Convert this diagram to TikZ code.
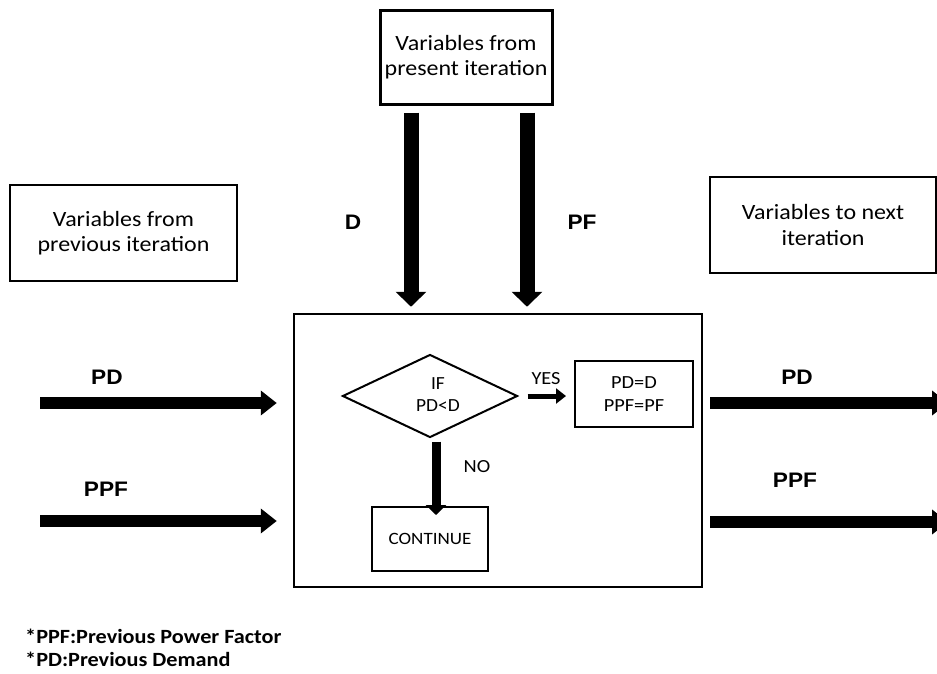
\documentclass[tikz,border=0pt]{standalone}
\usepackage{fontspec}
\setmainfont{Carlito}[FakeStretch=1.1]
\newfontfamily\plainfont{Carlito}[FakeStretch=1.05]
\newfontfamily\labfont{Liberation Sans}[FakeStretch=1.08]
\usetikzlibrary{arrows.meta,shapes.geometric}
\begin{document}
\begin{tikzpicture}[x=1pt,y=-1pt,
  box/.style={draw, line width=2.5pt, align=center, inner sep=0pt},
  boxtext/.style={font=\fontsize{21.8}{25.5}\selectfont},
  smalltext/.style={font=\fontsize{18.5}{23}\selectfont},
  conttext/.style={font=\fontsize{17.3}{22}\selectfont},
  lab/.style={font=\labfont\bfseries\fontsize{21}{25}\selectfont},
  bigarrow/.style={line width=15pt, -{Triangle[width=30pt,length=15pt]}},
  sidearrow/.style={line width=12pt, -{Triangle[width=24pt,length=16pt]}},
  yesarrow/.style={line width=5pt, -{Triangle[width=15pt,length=10pt]}},
  noarrow/.style={line width=9pt, -{Triangle[width=20pt,length=10pt]}},
  note/.style={anchor=west, inner sep=0pt, font=\bfseries\fontsize{20.2}{23}\selectfont}
]
\fill[white] (0,0) rectangle (937,673);
\useasboundingbox (0,0) rectangle (937,673);

% boxes
\node[box, boxtext, line width=3pt, minimum width=172pt, minimum height=94pt] (top) at (466,57) {Variables from\\present iteration};
\node[box, boxtext, minimum width=227pt, minimum height=96pt] (prev) at (123.5,233) {Variables from\\previous iteration};
\node[box, boxtext, minimum width=226pt, minimum height=96pt] (next) at (823,225) {Variables to next\\iteration};
\node[box, minimum width=408pt, minimum height=273pt] (big) at (498,450.5) {};

% inner flowchart
\node[diamond, draw, line width=2pt, inner sep=0pt, minimum width=175pt, minimum height=83pt] (cond) at (430,396) {};
\node[align=center, font=\plainfont\fontsize{18.5}{22}\selectfont] (condtext) at (438,395) {IF\\PD<D};
\node[box, smalltext, line width=2pt, minimum width=118pt, minimum height=66pt] (upd) at (634,394) {PD=D\\PPF=PF};
\node[box, conttext, line width=2pt, minimum width=116pt, minimum height=64pt] (cont) at (430,539) {CONTINUE};

\draw[yesarrow] ([xshift=9pt]cond.east) -- ([xshift=-8pt]cond.east -| upd.west);
\node[smalltext] (yes) at (546,379) {YES};
\coordinate (nox) at (436,0);
\draw[noarrow] ([yshift=-3pt]cond.south -| nox) -- ([yshift=-9pt]cont.north -| nox);
\node[smalltext] (no) at (477,467) {NO};

% vertical arrows from top box
\coordinate (dx) at (411,0);
\coordinate (pfx) at (527,0);
\draw[bigarrow] ([yshift=-7pt]top.south -| dx) -- ([yshift=6pt]big.north -| dx);
\draw[bigarrow] ([yshift=-7pt]top.south -| pfx) -- ([yshift=6pt]big.north -| pfx);
\node[lab] (dl) at (353,222) {D};
\node[lab] (pfl) at (582,222) {PF};

% left incoming arrows
\coordinate (inpd) at (40,403);
\coordinate (inppf) at (40,521);
\draw[sidearrow] (inpd) -- ([xshift=-16pt]big.west |- inpd);
\draw[sidearrow] (inppf) -- ([xshift=-16pt]big.west |- inppf);
\node[lab] (pdl) at (107,377) {PD};
\node[lab] (ppfl) at (106,489) {PPF};

% right outgoing arrows
\coordinate (outpd) at (948,403);
\coordinate (outppf) at (948,522);
\draw[sidearrow] ([xshift=7pt]big.east |- outpd) -- (outpd);
\draw[sidearrow] ([xshift=7pt]big.east |- outppf) -- (outppf);
\node[lab] (pdr) at (797,377) {PD};
\node[lab] (ppfr) at (795,480) {PPF};

% footnotes
\node[note] (n1) at (25,636) {*PPF:Previous Power Factor};
\node[note] (n2) at (25,659) {*PD:Previous Demand};
\end{tikzpicture}
\end{document}
